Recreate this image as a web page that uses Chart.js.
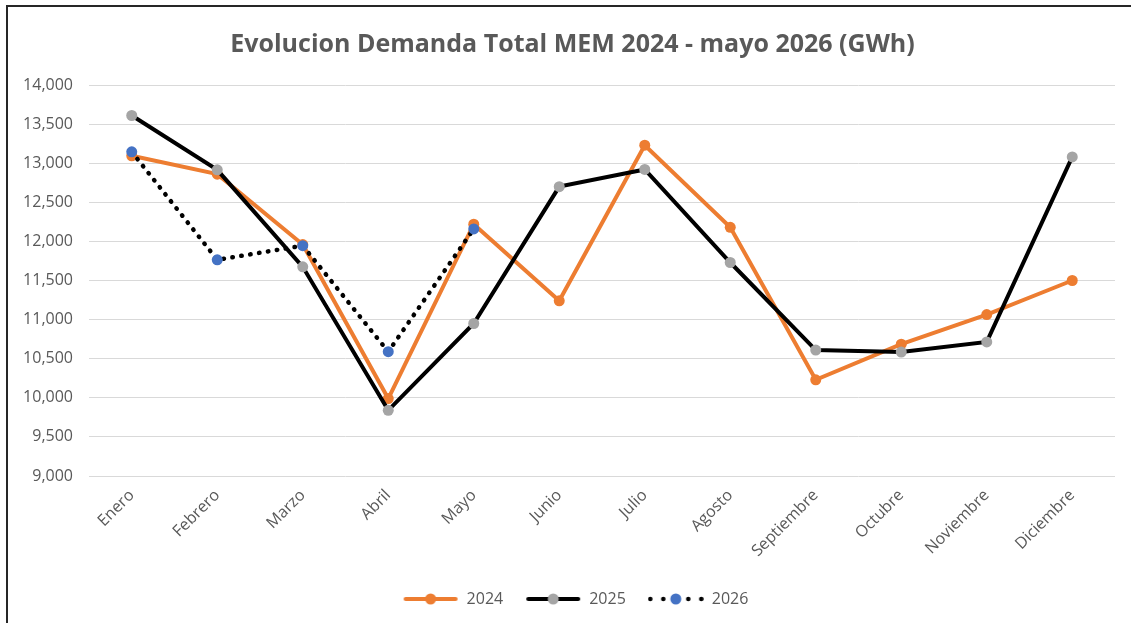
<!DOCTYPE html>
<html>
<head>
<meta charset="utf-8">
<script src="https://cdn.jsdelivr.net/npm/chart.js@4.4.1/dist/chart.umd.min.js"></script>
<style>
  html, body { margin: 0; padding: 0; background: #fff; overflow: hidden; }
  #wrap { position: relative; width: 1131px; height: 623px; }
  #frame { position: absolute; left: 6px; top: 5px; width: 1200px; height: 700px;
           border-left: 2px solid #262626; border-top: 2px solid #262626; }
  canvas { position: absolute; left: 0; top: 0; }
</style>
</head>
<body>
<div id="wrap">
  <div id="frame"></div>
  <canvas id="demandChart" width="1131" height="623"></canvas>
</div>
<script>
// Data (GWh)
const months = ['Enero', 'Febrero', 'Marzo', 'Abril', 'Mayo', 'Junio', 'Julio',
  'Agosto', 'Septiembre', 'Octubre', 'Noviembre', 'Diciembre'];
const demand2024 = [13095, 12860, 11960, 9990, 12220, 11240, 13230, 12180, 10230, 10685, 11065, 11500];
const demand2025 = [13610, 12915, 11675, 9840, 10950, 12700, 12920, 11730, 10610, 10585, 10715, 13080];
const demand2026 = [13145, 11765, 11945, 10590, 12160];
const yTicks = [9000, 9500, 10000, 10500, 11000, 11500, 12000, 12500, 13000, 13500, 14000];

const FONT = "'Open Sans', 'Liberation Sans', sans-serif";
const TEXT = '#595959';

// small legend swatches: line with a marker in the middle, like the spreadsheet legend
function swatch(lineColor, dotColor, dotted) {
  const c = document.createElement('canvas');
  c.width = 56; c.height = 14;
  const g = c.getContext('2d');
  g.strokeStyle = lineColor;
  g.fillStyle = lineColor;
  if (dotted) {
    [2.5, 15.5, 40.5, 53.5].forEach(x => {
      g.beginPath(); g.arc(x, 7, 2.3, 0, Math.PI * 2); g.fill();
    });
  } else {
    g.lineWidth = 4;
    g.lineCap = 'round';
    g.beginPath(); g.moveTo(3, 7); g.lineTo(53, 7); g.stroke();
  }
  g.fillStyle = dotColor;
  g.beginPath(); g.arc(28, 7, 5.5, 0, Math.PI * 2); g.fill();
  return c;
}

// nudge title and legend to where the spreadsheet put them
const blockShift = {
  id: 'blockShift',
  afterLayout(chart) {
    chart.legend.left += 18;
    chart.legend.right += 18;
    chart.titleBlock.left += 15;
    chart.titleBlock.right += 15;
  }
};

const ctx = document.getElementById('demandChart').getContext('2d');
const demandChart = new Chart(ctx, {
  type: 'line',
  data: {
    labels: months,
    datasets: [{
      label: '2024',
      data: demand2024,
      borderColor: '#ed7d31',
      backgroundColor: '#ed7d31',
      borderWidth: 4,
      pointRadius: 5.5,
      pointBorderWidth: 0,
      pointBackgroundColor: '#ed7d31',
      order: 3
    }, {
      label: '2025',
      data: demand2025,
      borderColor: '#000000',
      backgroundColor: '#a5a5a5',
      borderWidth: 4,
      pointRadius: 5.5,
      pointBorderWidth: 0,
      pointBackgroundColor: '#a5a5a5',
      order: 2
    }, {
      label: '2026',
      data: demand2026,
      borderColor: '#000000',
      backgroundColor: '#4472c4',
      borderWidth: 4.5,
      borderDash: [0.5, 8.5],
      borderCapStyle: 'round',
      pointRadius: 5.5,
      pointBorderWidth: 0,
      pointBackgroundColor: '#4472c4',
      order: 1
    }]
  },
  plugins: [blockShift],
  options: {
    responsive: false,
    animation: false,
    layout: { padding: { top: 14, right: 16, bottom: 6, left: 0 } },
    plugins: {
      title: {
        display: true,
        text: 'Evolucion Demanda Total MEM 2024 - mayo 2026 (GWh)',
        color: TEXT,
        font: { family: FONT, size: 25, weight: 'bold' },
        padding: { top: 16, bottom: 25 }
      },
      legend: {
        position: 'bottom',
        labels: {
          color: TEXT,
          font: { family: FONT, size: 16 },
          usePointStyle: true,
          pointStyleWidth: 56,
          padding: 22,
          generateLabels: (chart) => {
            const swatches = [
              swatch('#ed7d31', '#ed7d31', false),
              swatch('#000000', '#a5a5a5', false),
              swatch('#000000', '#4472c4', true)
            ];
            return chart.data.datasets.map((ds, i) => ({
              text: ds.label,
              pointStyle: swatches[i],
              fillStyle: ds.backgroundColor,
              strokeStyle: ds.borderColor,
              lineWidth: 0,
              fontColor: TEXT,
              datasetIndex: i
            }));
          }
        }
      },
      tooltip: { enabled: false }
    },
    scales: {
      x: {
        offset: true,
        grid: { display: false },
        border: { display: false },
        ticks: {
          color: TEXT,
          font: { family: FONT, size: 16 },
          maxRotation: 45,
          minRotation: 45,
          padding: 2
        },
        afterFit: (scale) => { scale.height = 93; }
      },
      y: {
        min: 9000,
        max: 14000,
        grid: { color: '#d9d9d9', lineWidth: 1, drawTicks: false },
        border: { display: false },
        afterBuildTicks: (scale) => { scale.ticks = yTicks.map(v => ({ value: v })); },
        ticks: {
          color: TEXT,
          font: { family: FONT, size: 16 },
          padding: 16,
          callback: (v) => v.toLocaleString('en-US')
        },
        afterFit: (scale) => { scale.width = 89; }
      }
    }
  }
});
</script>
</body>
</html>
